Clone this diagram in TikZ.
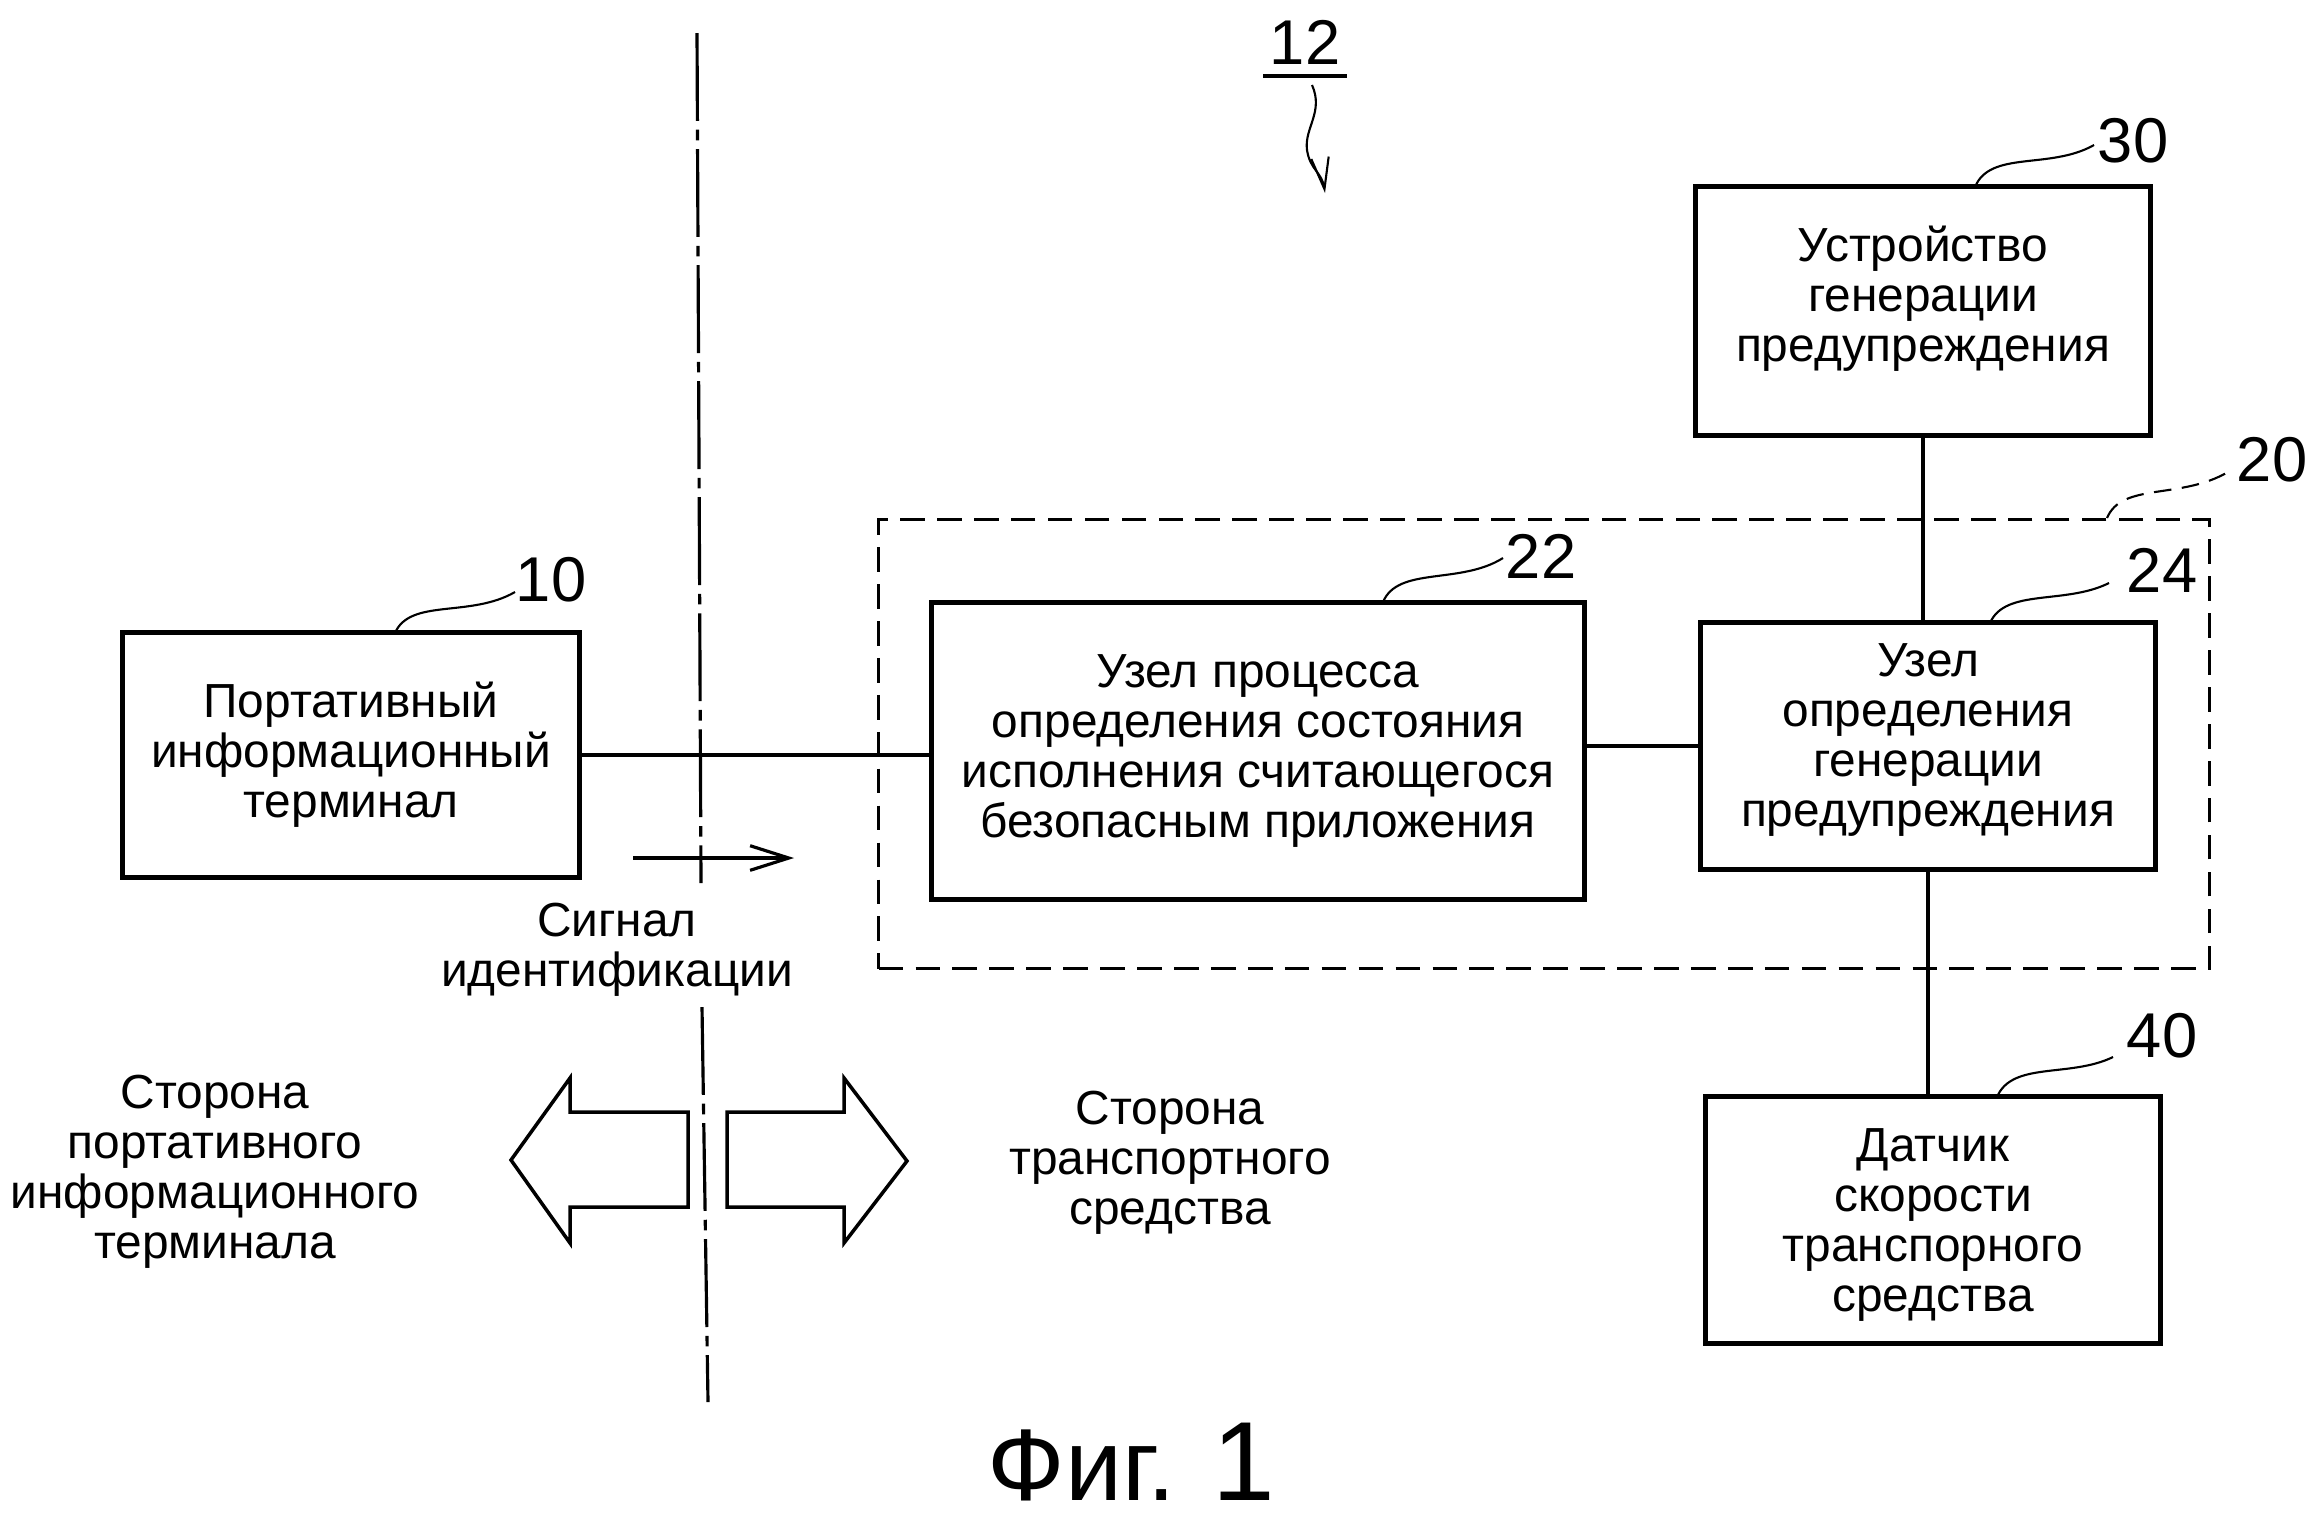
\documentclass[tikz,border=0pt]{standalone}
\usepackage{fontspec}
\setmainfont{Liberation Sans}
\usetikzlibrary{arrows.meta}
\begin{document}
\begin{tikzpicture}[x=0.01cm,y=-0.01cm,
  box/.style={draw, line width=1.4pt, inner sep=0pt, align=center, font=\fontsize{13.6pt}{14.2pt}\selectfont},
  txt/.style={inner sep=0pt, align=center, font=\fontsize{13.6pt}{14.2pt}\selectfont},
  num/.style={inner sep=0pt, font=\fontsize{18pt}{20pt}\selectfont},
  conn/.style={line width=0.9pt},
  leader/.style={line width=0.6pt},
  chain/.style={line width=0.9pt, dash pattern=on 25pt off 2.5pt on 3pt off 2.5pt},
  grp/.style={draw, line width=0.9pt, dash pattern=on 7pt off 3.5pt, inner sep=0pt},
  blockarrow/.style={draw, line width=1pt, line join=miter}
]
\useasboundingbox (0,0) rectangle (2316,1523);

% divider (chain line), interrupted at the signal label
\coordinate (ct) at (697,33);
\coordinate (cg1) at (701,883);
\coordinate (cg2) at (702,1007);
\coordinate (cb) at (708,1402);
\draw[chain] (ct) -- (cg1);
\draw[chain] (cg2) -- (cb);

% group 20
\node[grp, minimum width=13.30cm, minimum height=4.49cm] (b20) at (1544,744) {};

% boxes
\node[box, minimum width=4.56cm, minimum height=2.45cm] (b10) at (351,755) {Портативный\\информационный\\терминал};
\node[box, minimum width=6.53cm, minimum height=2.97cm] (b22) at (1258,751) {Узел процесса\\определения состояния\\исполнения считающегося\\безопасным приложения};
\node[box, minimum width=4.54cm, minimum height=2.47cm,
      label={[txt, yshift=0.06cm]center:Узел\\определения\\генерации\\предупреждения}] (b24) at (1928,746) {};
\node[box, minimum width=4.54cm, minimum height=2.48cm,
      label={[txt, yshift=0.12cm]center:Устройство\\генерации\\предупреждения}] (b30) at (1923,311) {};
\node[box, minimum width=4.54cm, minimum height=2.47cm,
      label={[txt, yshift=-0.05cm]center:Датчик\\скорости\\транспорного\\средства}] (b40) at (1933,1220) {};

% connectors
\draw[conn] (b10.east) -- (b10.east -| b22.west);
\draw[conn] (b24.west -| b22.east) -- (b24.west);
\draw[conn] (b30.south) -- (b30.south |- b24.north);
\draw[conn] (b24.south) -- (b24.south |- b40.north);

% reference numerals
\node[num] (n10) at (551,580) {10};
\node[num] (n22) at (1541,556) {22};
\node[num] (n24) at (2162,570) {24};
\node[num] (n30) at (2133,141) {30};
\node[num] (n40) at (2162,1036) {40};
\node[num] (n20) at (2272,460) {20};
\node[num] (n12) at (1305,42) {12};
\draw[line width=1.3pt] ([xshift=-0.06cm,yshift=-0.11cm]n12.south west) -- ([xshift=0.06cm,yshift=-0.11cm]n12.south east);

% leaders
\coordinate (s10) at (395,633);  \coordinate (e10) at (515,592);
\coordinate (s22) at (1383,602); \coordinate (e22) at (1503,558);
\coordinate (s24) at (1990,623); \coordinate (e24) at (2109,583);
\coordinate (s30) at (1975,187); \coordinate (e30) at (2094,145);
\coordinate (s40) at (1997,1097);\coordinate (e40) at (2113,1057);
\coordinate (s20) at (2107,518); \coordinate (e20) at (2228,472);
\draw[leader] (s10) .. controls (410,598) and (470,618) .. (e10);
\draw[leader] (s22) .. controls (1398,566) and (1460,585) .. (e22);
\draw[leader] (s24) .. controls (2005,588) and (2065,605) .. (e24);
\draw[leader] (s30) .. controls (1990,150) and (2050,170) .. (e30);
\draw[leader] (s40) .. controls (2012,1061) and (2070,1078) .. (e40);
\draw[leader, dash pattern=on 5pt off 3pt] (s20) .. controls (2122,482) and (2180,500) .. (e20);

% squiggle arrow for 12
\coordinate (q1) at (1312,85);
\coordinate (q2) at (1325,193);
\draw[leader, -{Straight Barb[length=9pt,width=5pt]}] (q1) .. controls (1324,112) and (1304,128) .. (1307,150) .. controls (1310,170) and (1322,172) .. (q2);

% signal arrow
\coordinate (a1) at (633,858);
\coordinate (a2) at (794,858);
\draw[conn, -{Straight Barb[length=11pt,width=7pt]}] (a1) -- (a2);
\node[txt] (sig) at (617,950) {Сигнал\\идентификации};

% block arrows
\draw[blockarrow] (688,1112) -- (570,1112) -- (570,1078) -- (511,1160) -- (570,1243) -- (570,1207) -- (688,1207) -- cycle;
\draw[blockarrow] (727,1112) -- (844,1112) -- (844,1078) -- (907,1161) -- (844,1243) -- (844,1207) -- (727,1207) -- cycle;

\node[txt] (left) at (215,1172) {Сторона\\портативного\\информационного\\терминала};
\node[txt] (right) at (1170,1163) {Сторона\\транспортного\\средства};

% caption
\node[inner sep=0pt, anchor=base west, font=\fontsize{29pt}{31pt}\selectfont] (fig) at (987,1500) {Фиг.};
\node[inner sep=0pt, anchor=base west, font=\fontsize{32pt}{34pt}\selectfont] (fig1) at (1212,1500) {1};
\end{tikzpicture}
\end{document}
